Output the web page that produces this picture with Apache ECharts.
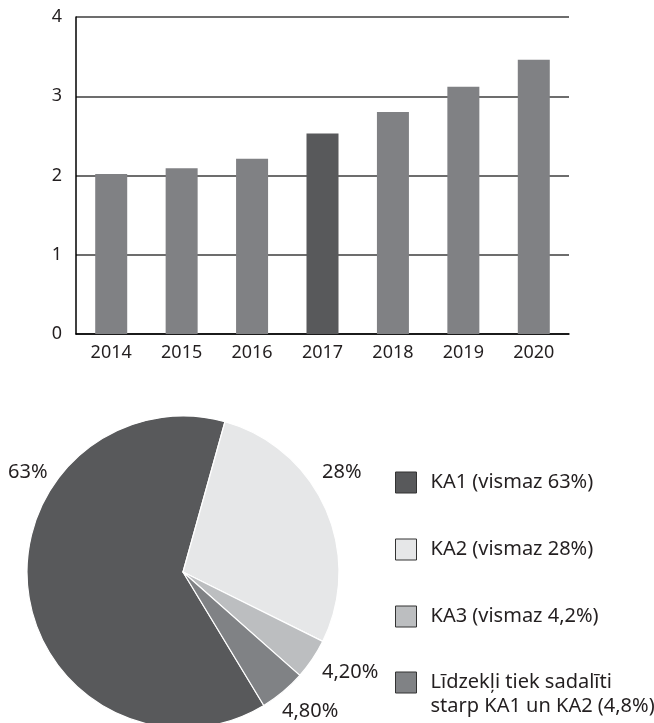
<!DOCTYPE html>
<html>
<head>
<meta charset="utf-8">
<script src="https://cdn.jsdelivr.net/npm/echarts@6/dist/echarts.min.js"></script>
<style>
  html, body { margin: 0; padding: 0; background: #fff; }
  #main { width: 654px; height: 723px; }
</style>
</head>
<body>
<div id="main"></div>
<script>
// bar chart data
var years = ['2014', '2015', '2016', '2017', '2018', '2019', '2020'];
var yearValues = [2.02, 2.09, 2.21, 2.53, 2.80, 3.12, 3.46];
var highlightYear = '2017';

// pie chart data
var shareNames = ['KA1 (vismaz 63%)', 'KA2 (vismaz 28%)', 'KA3 (vismaz 4,2%)', 'Līdzekļi tiek sadalīti\nstarp KA1 un KA2 (4,8%)'];
var shareValues = [63, 28, 4.2, 4.8];
var shareLabels = ['63%', '28%', '4,20%', '4,80%'];

var font = 'Noto Sans';
var textColor = '#231f20';
var sliceColors = ['#58595b', '#e6e7e8', '#bcbec0', '#808285'];
// where each pie percentage sits (label placement only)
var labelSpots = [[8, 472], [322, 472], [322, 672], [282, 711]];

var myChart = echarts.init(document.getElementById('main'));

var barData = years.map(function (y, i) {
  return {
    value: yearValues[i],
    itemStyle: { color: y === highlightYear ? '#58595b' : '#808184' }
  };
});

var pieData = shareNames.map(function (n, i) {
  return { name: n, value: shareValues[i], itemStyle: { color: sliceColors[i] } };
});

var legendBase = {
  orient: 'vertical',
  left: 395,
  padding: 0,
  itemWidth: 21,
  itemHeight: 21,
  itemGap: 43,
  icon: 'rect',
  height: 300,
  itemStyle: { borderColor: '#333', borderWidth: 1 },
  textStyle: { color: textColor, fontSize: 20, fontFamily: font, lineHeight: 24, padding: [0, 0, 0, 9] }
};

var option = {
  backgroundColor: '#fff',
  animation: false,
  textStyle: { fontFamily: font },
  grid: { left: 76, right: 85, top: 17, bottom: 389 },
  xAxis: {
    type: 'category',
    data: years,
    axisLine: { lineStyle: { color: '#000', width: 1.5 } },
    axisTick: { show: false },
    axisLabel: { color: textColor, fontSize: 18, margin: 10, fontFamily: font }
  },
  yAxis: {
    type: 'value',
    min: 0,
    max: 4,
    interval: 1,
    axisLine: { show: true, lineStyle: { color: '#000', width: 1.5 } },
    axisTick: { show: false },
    axisLabel: { color: textColor, fontSize: 18, margin: 14, fontFamily: font },
    splitLine: { lineStyle: { color: '#3c3c3c', width: 1.5 } }
  },
  legend: [
    Object.assign({}, legendBase, { top: 470.5, data: shareNames.slice(0, 3) }),
    // two-line item: an empty first line keeps "Līdzekļi..." level with the swatch
    Object.assign({}, legendBase, {
      top: 646.5,
      data: shareNames.slice(3),
      formatter: function (name) { return ' \n' + name; }
    })
  ],
  series: [
    {
      type: 'bar',
      data: barData,
      barWidth: 32
    },
    {
      type: 'pie',
      center: [183, 572],
      radius: 156,
      startAngle: -58.8,
      clockwise: true,
      avoidLabelOverlap: false,
      data: pieData,
      itemStyle: { borderColor: '#fff', borderWidth: 1.2 },
      emphasis: { disabled: true },
      label: {
        show: true,
        position: 'outside',
        color: textColor,
        fontSize: 20,
        fontFamily: font,
        formatter: function (p) { return shareLabels[p.dataIndex]; }
      },
      labelLine: { show: false },
      labelLayout: function (p) {
        var s = labelSpots[p.dataIndex];
        return { x: s[0], y: s[1], align: 'left', verticalAlign: 'middle' };
      }
    }
  ]
};

myChart.setOption(option);
</script>
</body>
</html>
